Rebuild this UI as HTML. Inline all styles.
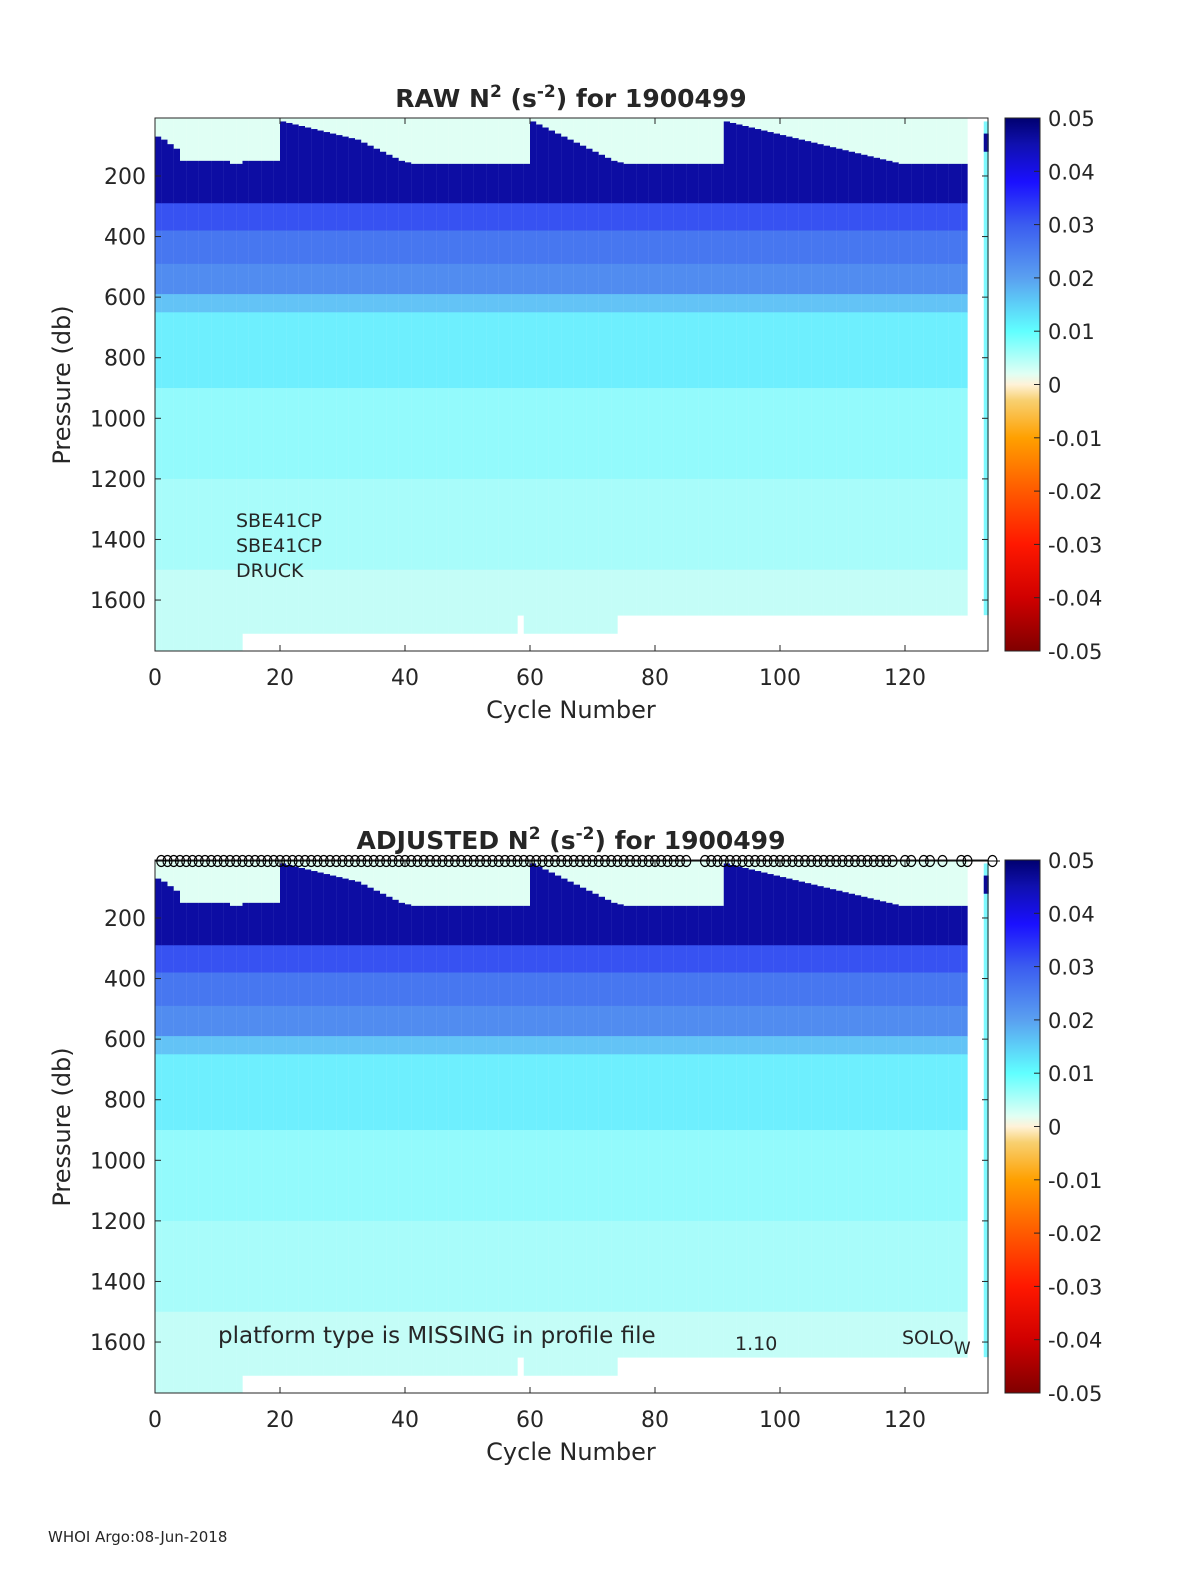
<!DOCTYPE html>
<html><head><meta charset="utf-8"><style>
html,body{margin:0;padding:0;background:#fff;overflow:hidden;}
svg{position:fixed;left:0;top:0;display:block;}
svg text{font-family:"DejaVu Sans","Liberation Sans",sans-serif;fill:#262626;}
</style></head><body>
<svg id="fig" width="1200" height="1575" viewBox="0 0 1200 1575" xmlns="http://www.w3.org/2000/svg">
<defs>
<linearGradient id="cbg" x1="0" y1="1" x2="0" y2="0">
<stop offset="0" stop-color="#800000"/><stop offset="0.1" stop-color="#d00000"/><stop offset="0.2" stop-color="#ff1800"/><stop offset="0.3" stop-color="#ff5a00"/><stop offset="0.4" stop-color="#ffa000"/><stop offset="0.47" stop-color="#f8d070"/><stop offset="0.5" stop-color="#fff2d8"/><stop offset="0.52" stop-color="#e0fff4"/><stop offset="0.6" stop-color="#60ffff"/><stop offset="0.7" stop-color="#5aa0f0"/><stop offset="0.8" stop-color="#3b5cf0"/><stop offset="0.88" stop-color="#1a10ff"/><stop offset="0.95" stop-color="#1010b0"/><stop offset="1" stop-color="#000070"/>
</linearGradient>
</defs>
</svg>
<script>
// ---- data ----
const cycles = Array.from({length:130},(_,i)=>i);
const mixedLayerDepth = [70,80,95,110,150,150,150,150,150,150,150,150,160,160,150,150,150,150,150,150,
 20,25,30,35,40,45,50,55,60,65,70,75,80,90,100,110,120,130,140,150,155,160,160,160,160,160,160,160,160,160,
 160,160,160,160,160,160,160,160,160,160,
 20,30,40,50,60,70,80,90,100,110,120,130,140,150,155,160,160,160,160,160,160,160,160,160,160,160,160,160,160,160,160,
 20,25,30,35,40,45,50,55,60,65,70,75,80,85,90,95,100,105,110,115,120,125,130,135,140,145,150,155,160,160,160,160,160,160,160,160,160,160,160];
const levelTop = [290,380,490,590,650,900,1200,1500];
const levelN2 = [0.031,0.026,0.023,0.016,0.011,0.0075,0.006,0.004];
const surfaceN2 = 0.002, thermoclineN2 = 0.046, thermoclineBase = 290;
const yTicks = [200,400,600,800,1000,1200,1400,1600];
const xTicks = [0,20,40,60,80,100,120];
const cbTicks = [0.05,0.04,0.03,0.02,0.01,0,-0.01,-0.02,-0.03,-0.04,-0.05];
const positionFlags = [1,2,3,4,5,6,7,8,9,10,11,12,13,14,15,16,17,18,19,20,21,22,23,24,25,26,27,28,29,30,31,32,33,34,35,36,37,38,39,40,41,42,43,44,45,46,47,48,49,50,51,52,53,54,55,56,57,58,59,60,61,62,63,64,65,66,67,68,69,70,71,72,73,74,75,76,77,78,79,80,81,82,83,84,85,88,89,90,91,92,93,94,95,96,97,98,99,100,101,102,103,104,105,106,107,108,109,110,111,112,113,114,115,116,117,118,120,121,123,124,126,129,130,134];
function bottomFor(c){ if(c<14) return 1768; if(c===58) return 1650; if(c<74) return 1710; return 1650; }

// colormap
const stops=[[-0.05,[128,0,0]],[-0.04,[208,0,0]],[-0.03,[255,24,0]],[-0.02,[255,90,0]],[-0.01,[255,160,0]],[-0.003,[248,208,112]],[0,[255,242,216]],[0.002,[224,255,244]],[0.01,[112,248,255]],[0.02,[90,160,240]],[0.03,[59,92,240]],[0.038,[26,16,255]],[0.045,[16,16,176]],[0.05,[0,0,112]]];
function cmap(v){v=Math.max(-0.05,Math.min(0.05,v));for(let i=0;i<stops.length-1;i++){const[a,ca]=stops[i],[b,cb]=stops[i+1];if(v<=b){const t=(v-a)/(b-a);return 'rgb('+ca.map((x,k)=>Math.round(x+t*(cb[k]-x))).join(',')+')';}}return 'rgb(0,0,112)';}

const NS='http://www.w3.org/2000/svg';
const svg=document.getElementById('fig');
function el(tag,attrs,parent){const e=document.createElementNS(NS,tag);for(const k in attrs)e.setAttribute(k,attrs[k]);(parent||svg).appendChild(e);return e;}
const X0=155,X1=988;
const xs=c=>X0+c*6.25;
function drawPanel(top,title,isAdj){
  const g=el('g',{});
  
  
  const ys=p=>top-2.6+p*0.3029;
  const PMIN=8.6;
  const hm=el('g',{},g);
  
  
  cycles.forEach((c,i)=>{
    const x=xs(c), w=6.4, mld=mixedLayerDepth[i], bot=bottomFor(c);
    const segs=[[PMIN,mld,surfaceN2],[mld,thermoclineBase,thermoclineN2]];
    levelTop.forEach((p,k)=>segs.push([p,k<levelTop.length-1?levelTop[k+1]:bot,levelN2[k]]));
    segs.forEach(s=>{const a=Math.max(s[0],PMIN),b=Math.min(s[1],bot);if(b<=a)return;
      const r=el('rect',{x:x,y:ys(a),width:w,height:ys(b)-ys(a)+0.4,fill:cmap(s[2])},hm);
      
      });
  });
  const st=el('rect',{x:xs(132.6),y:ys(20),width:5,height:ys(1650)-ys(20),fill:cmap(0.009)},hm);
  
  
  el('rect',{x:xs(132.6),y:ys(60),width:5,height:ys(120)-ys(60),fill:cmap(0.047)},hm);
  const fr=el('rect',{x:X0,y:top,width:X1-X0,height:533,fill:'none',stroke:'#262626','stroke-width':1},g);
  
  
  yTicks.forEach(p=>{const y=ys(p);
    el('line',{x1:X0,x2:X0+6,y1:y,y2:y,stroke:'#262626'},g);el('line',{x1:X1,x2:X1-6,y1:y,y2:y,stroke:'#262626'},g);
    const t=el('text',{x:146,y:y+8,'text-anchor':'end','font-size':22},g);t.textContent=p;
    
    });
  xTicks.forEach(c=>{const x=xs(c);
    el('line',{x1:x,x2:x,y1:top+533,y2:top+527,stroke:'#262626'},g);el('line',{x1:x,x2:x,y1:top,y2:top+6,stroke:'#262626'},g);
    const t=el('text',{x:x,y:top+567,'text-anchor':'middle','font-size':22},g);t.textContent=c;
    
    });
  const xl=el('text',{x:571,y:top+600,'text-anchor':'middle','font-size':24},g);xl.textContent='Cycle Number';
  
  
  const yl=el('text',{x:0,y:0,'text-anchor':'middle','font-size':24,transform:'translate(70,'+(top+267)+') rotate(-90)'},g);yl.textContent='Pressure (db)';
  
  
  const tt=el('text',{x:571,y:top-11,'text-anchor':'middle','font-size':25,'font-weight':'bold'},g);
  tt.innerHTML=title+' N<tspan dy="-10" font-size="17">2</tspan><tspan dy="10"> (s</tspan><tspan dy="-10" font-size="17">-2</tspan><tspan dy="10">) for 1900499</tspan>';
  
  
  const cb=el('rect',{x:1005,y:top,width:35,height:533,fill:'url(#cbg)',stroke:'#262626'},g);
  
  
  cbTicks.forEach(v=>{const y=top+(0.05-v)/0.1*533;
    el('line',{x1:1034,x2:1040,y1:y,y2:y,stroke:'#262626'},g);
    const t=el('text',{x:1048,y:y+8,'font-size':21},g);t.textContent=v;
    
    });
  return ys;
}
drawPanel(118,'RAW',false);
[['SBE41CP',527],['SBE41CP',552],['DRUCK',577]].forEach(([s,y])=>{const t=el('text',{x:236,y:y,'font-size':19});t.textContent=s;
  
  });
drawPanel(860,'ADJUSTED',true);
const fl=el('g',{});


el('line',{x1:155,x2:1000,y1:861,y2:861,stroke:'#000','stroke-width':1},fl);
positionFlags.forEach(c=>{const e=el('ellipse',{cx:xs(c),cy:861,rx:4.5,ry:5.5,fill:'none',stroke:'#000','stroke-width':1.2},fl);
  
  });
const a1=el('text',{x:218,y:1343,'font-size':23});a1.textContent='platform type is MISSING in profile file';


const a2=el('text',{x:735,y:1350,'font-size':19});a2.textContent='1.10';


const a3=el('text',{x:902,y:1344,'font-size':19});a3.innerHTML='SOLO<tspan dy="10" font-size="17">W</tspan>';


const ft=el('text',{x:48,y:1542,'font-size':15});ft.textContent='WHOI Argo:08-Jun-2018';


</script>
</body></html>
